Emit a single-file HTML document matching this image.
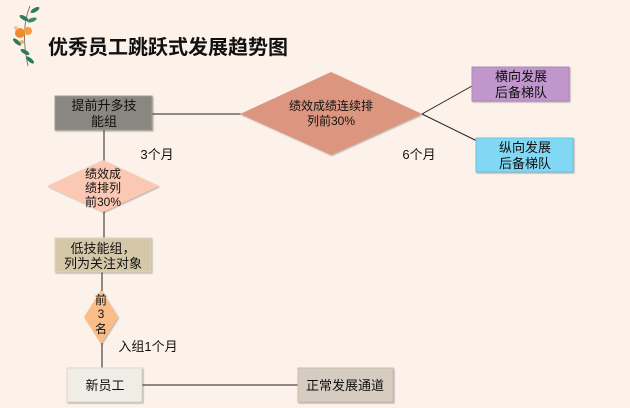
<!DOCTYPE html>
<html><head><meta charset="utf-8"><style>
html,body{margin:0;width:630px;height:408px;background:#fdf2ea;overflow:hidden;font-family:"Liberation Sans","Noto Sans CJK SC",sans-serif}
svg{display:block}
</style></head><body>
<svg width="630" height="408" viewBox="0 0 630 408" xmlns="http://www.w3.org/2000/svg" font-family="Liberation Sans, Noto Sans CJK SC, sans-serif">
<defs><filter id="s" x="-10%" y="-10%" width="130%" height="140%"><feDropShadow dx="1" dy="1" stdDeviation="0.8" flood-color="#000" flood-opacity="0.3"/></filter></defs>
<g>
<path d="M30 6 Q20 30 28 66" stroke="#8a7a6a" stroke-width="1" fill="none"/>
<ellipse cx="35" cy="10" rx="5" ry="2" fill="#2f7a5e" transform="rotate(-30 35 10)"/>
<ellipse cx="24" cy="18" rx="5" ry="2" fill="#2f7a5e" transform="rotate(30 24 18)"/>
<ellipse cx="32" cy="20" rx="5" ry="2" fill="#3a8a6a" transform="rotate(-20 32 20)"/>
<ellipse cx="17" cy="42" rx="5" ry="2" fill="#2f7a5e" transform="rotate(40 17 42)"/>
<ellipse cx="25" cy="52" rx="5" ry="2" fill="#2f7a5e" transform="rotate(30 25 52)"/>
<ellipse cx="30" cy="60" rx="5" ry="2" fill="#2f7a5e" transform="rotate(40 30 60)"/>
<circle cx="20" cy="33" r="5" fill="#f08a30"/><circle cx="28" cy="31" r="4" fill="#f5a040"/><circle cx="16" cy="28" r="2" fill="#f4c0a0"/><circle cx="22" cy="42" r="2" fill="#f5b060"/>
</g>
<text x="48" y="54" font-size="20" font-weight="bold" fill="#111">优秀员工跳跃式发展趋势图</text>
<g stroke="#222" stroke-width="1" fill="none">
<line x1="152" y1="114" x2="241" y2="114"/>
<line x1="104" y1="130" x2="104" y2="161"/>
<line x1="104" y1="211" x2="104" y2="238"/>
<line x1="102" y1="272" x2="102" y2="291"/>
<line x1="102" y1="343" x2="102" y2="368"/>
<line x1="142" y1="385" x2="298" y2="385"/>
<line x1="422" y1="114" x2="472" y2="86"/>
<line x1="422" y1="114" x2="477" y2="141"/>
</g>
<g filter="url(#s)">
<rect x="55" y="96" width="97" height="34" fill="#8a8680" stroke="#a09c96"/>
<polygon points="240,114 331,72 422,114 331,155" fill="#dc9680"/>
<rect x="472" y="67" width="97" height="34" fill="#c096cc" stroke="#b088bc"/>
<rect x="476" y="138" width="97" height="34" fill="#80d8f4" stroke="#70c4e0"/>
<polygon points="47,186 103,160 159,186 103,212" fill="#fbc8b4"/>
<rect x="55" y="238" width="96" height="34" fill="#d4c8a8" stroke="#e0d6bc"/>
<polygon points="101,290 118,317 101,344 84,317" fill="#fbbd88"/>
<rect x="67" y="368" width="75" height="34" fill="#f0ece6" stroke="#ddd8d0"/>
<rect x="298" y="368" width="95" height="34" fill="#d6ccc0" stroke="#c8beb2"/>
</g>
<g fill="#111" font-size="13" text-anchor="middle">
<text x="104" y="110">提前升多技</text><text x="104" y="126">能组</text>
<text x="331" y="110" font-size="12">绩效成绩连续排</text><text x="331" y="125" font-size="12">列前30%</text>
<text x="521" y="81">横向发展</text><text x="521" y="97">后备梯队</text>
<text x="525" y="152">纵向发展</text><text x="525" y="168">后备梯队</text>
<text x="103" y="178" font-size="12">绩效成</text><text x="103" y="192" font-size="12">绩排列</text><text x="103" y="206" font-size="12">前30%</text>
<text x="103" y="253">低技能组，</text><text x="103" y="268">列为关注对象</text>
<text x="101" y="304" font-size="12">前</text><text x="101" y="318" font-size="12">3</text><text x="101" y="333" font-size="12">名</text>
<text x="105" y="390">新员工</text>
<text x="345" y="390">正常发展通道</text>
<text x="157" y="159">3个月</text>
<text x="419" y="159">6个月</text>
<text x="148" y="351">入组1个月</text>
</g>
</svg>
</body></html>
